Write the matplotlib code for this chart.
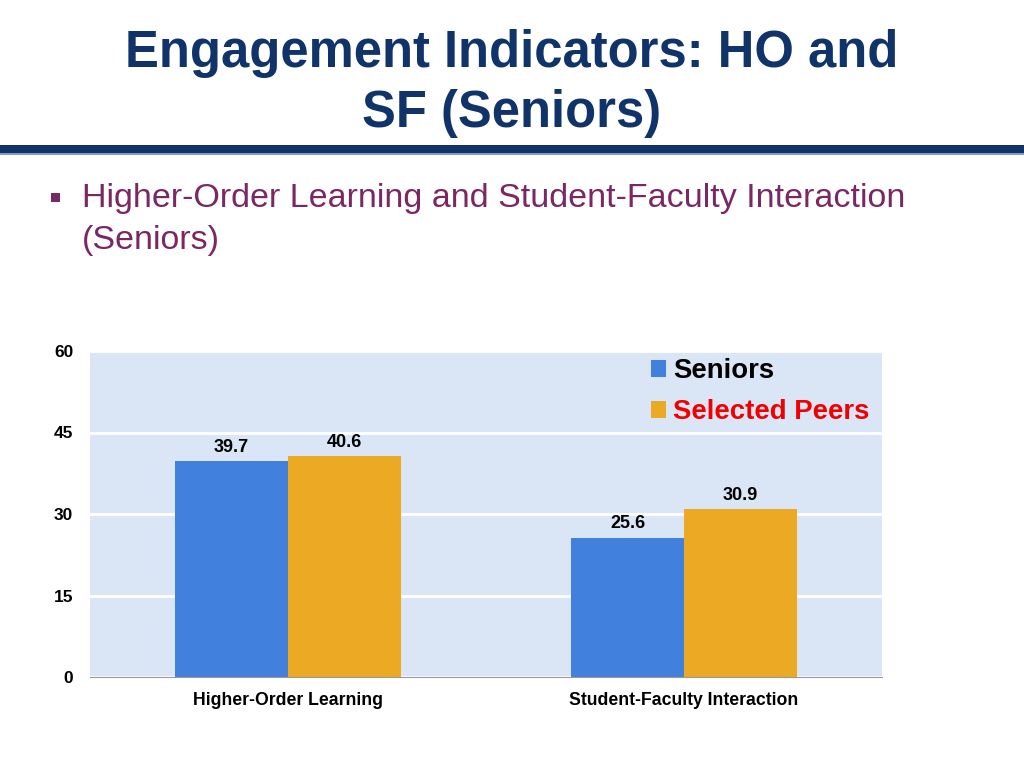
import matplotlib.pyplot as plt
import numpy as np
from matplotlib.patches import Rectangle

plt.rcParams['font.family'] = ['Liberation Sans', 'DejaVu Sans']

categories = ['Higher-Order Learning', 'Student-Faculty Interaction']
series_names = ['Seniors', 'Selected Peers']
seniors = [39.7, 25.6]
peers = [40.6, 30.9]
yticks = [0, 15, 30, 45, 60]

blue = '#4180DD'
orange = '#ECA924'
navy = '#10336A'

fig = plt.figure(figsize=(10.24, 7.68), dpi=100)

# slide header
fig.text(0.5, 1 - 53 / 768, 'Engagement Indicators: HO and', ha='center', va='center',
         fontsize=36.5, fontweight='bold', color=navy)
fig.text(0.5, 1 - 114 / 768, 'SF (Seniors)', ha='center', va='center',
         fontsize=36.5, fontweight='bold', color=navy)
fig.add_artist(Rectangle((0, 1 - 153 / 768), 1, 8 / 768, transform=fig.transFigure,
                         color=navy, lw=0))
fig.add_artist(Rectangle((0, 1 - 155 / 768), 1, 2 / 768, transform=fig.transFigure,
                         color='#7F9CC4', lw=0))

# bullet + subtitle
sub_color = '#7A2763'
fig.add_artist(Rectangle((51 / 1024, 1 - 202 / 768), 9 / 1024, 9 / 768,
                         transform=fig.transFigure, color=sub_color, lw=0))
fig.text(82 / 1024, 1 - 198 / 768, 'Higher-Order Learning and Student-Faculty Interaction',
         ha='left', va='center', fontsize=24.5, color=sub_color)
fig.text(82 / 1024, 1 - 240 / 768, '(Seniors)', ha='left', va='center',
         fontsize=24.5, color=sub_color)

# chart
ax = fig.add_axes([90 / 1024, 1 - 677 / 768, 792 / 1024, 326 / 768])
ax.set_facecolor('#DAE6F5')
x = np.arange(len(categories))
w = 0.285
b1 = ax.bar(x - w / 2, seniors, w, color=blue, label=series_names[0], zorder=3)
b2 = ax.bar(x + w / 2, peers, w, color=orange, label=series_names[1], zorder=3)
for bars in (b1, b2):
    for r in bars:
        ax.annotate(f'{r.get_height():.1f}', (r.get_x() + r.get_width() / 2, r.get_height()),
                    xytext=(0, 4), textcoords='offset points', ha='center', va='bottom',
                    fontsize=13, fontweight='bold')

ax.set_xlim(-0.5, 1.5)
ax.set_ylim(0, 60)
ax.set_yticks(yticks)
ax.set_yticklabels([str(t) for t in yticks], fontsize=12.5, fontweight='bold')
ax.set_xticks(x)
ax.set_xticklabels(categories, fontsize=12.7, fontweight='bold')
ax.tick_params(length=0)
ax.tick_params(axis='y', pad=12)
ax.tick_params(axis='x', pad=11)
ax.grid(axis='y', color='white', lw=2, zorder=1)
for s in ['top', 'right', 'left']:
    ax.spines[s].set_visible(False)
ax.spines['bottom'].set_color('#999999')
ax.spines['bottom'].set_zorder(4)

leg = ax.legend(loc='upper right', bbox_to_anchor=(0.998, 1.012), frameon=False,
                prop={'size': 19.8, 'weight': 'bold'}, handlelength=0.55, handleheight=0.55,
                handletextpad=0.25, labelspacing=0.55, borderaxespad=0.0)
leg.get_texts()[1].set_color('#F00000')

fig.savefig('out.png', dpi=100)
